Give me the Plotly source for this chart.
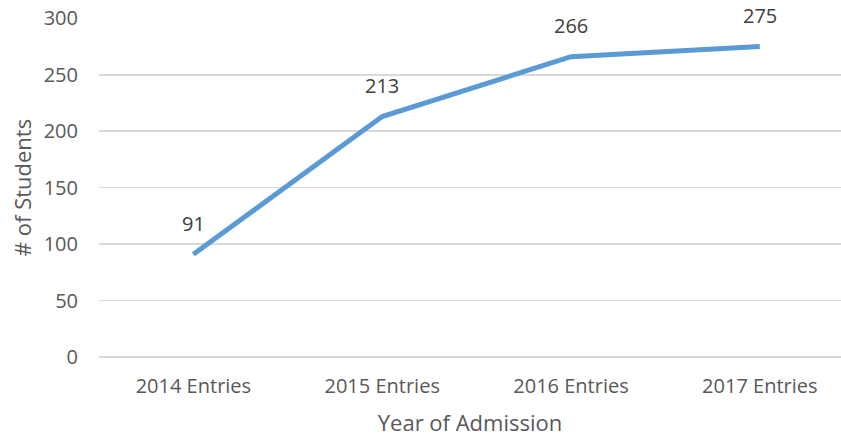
import plotly.graph_objects as go

categories = ["2014 Entries", "2015 Entries", "2016 Entries", "2017 Entries"]
students = [91, 213, 266, 275]
y_ticks = [0, 50, 100, 150, 200, 250, 300]

font_family = "Open Sans, Liberation Sans, sans-serif"
text_color = "#595959"

fig = go.Figure()
fig.add_trace(go.Scatter(
    x=categories, y=students, mode="lines",
    line=dict(color="#5b9bd5", width=5),
    hoverinfo="skip", showlegend=False, cliponaxis=False,
))

for c, v in zip(categories, students):
    fig.add_annotation(x=c, y=v, text=str(v), showarrow=False, yshift=31,
                       font=dict(size=20, color="#404040", family=font_family))

fig.update_layout(
    width=841, height=438,
    margin=dict(l=99, r=0, t=18, b=81),
    paper_bgcolor="white", plot_bgcolor="white",
    font=dict(family=font_family, color=text_color),
    xaxis=dict(
        type="category", range=[-0.5, 3.43], automargin=False,
        showgrid=False, showline=False, zeroline=False,
        tickfont=dict(size=20, color=text_color),
        ticks="outside", ticklen=11, tickcolor="rgba(0,0,0,0)",
        title=dict(text="Year of Admission", font=dict(size=22, color=text_color), standoff=17),
    ),
    yaxis=dict(
        range=[0, 300.3], tickvals=y_ticks, automargin=False,
        showgrid=True, gridcolor="#d9d9d9", gridwidth=1.5,
        zeroline=True, zerolinecolor="#d9d9d9", zerolinewidth=1.5,
        showline=False,
        tickfont=dict(size=20, color=text_color),
        ticks="outside", ticklen=16, tickcolor="rgba(0,0,0,0)",
        title=dict(text="# of Students", font=dict(size=22, color=text_color), standoff=5),
    ),
)

fig.write_html(
    "out.html",
    config={"displayModeBar": False, "staticPlot": True},
    post_script=("document.body.style.margin='0';"
                 "document.body.style.overflow='hidden';"
                 "document.documentElement.style.overflow='hidden';"),
)
